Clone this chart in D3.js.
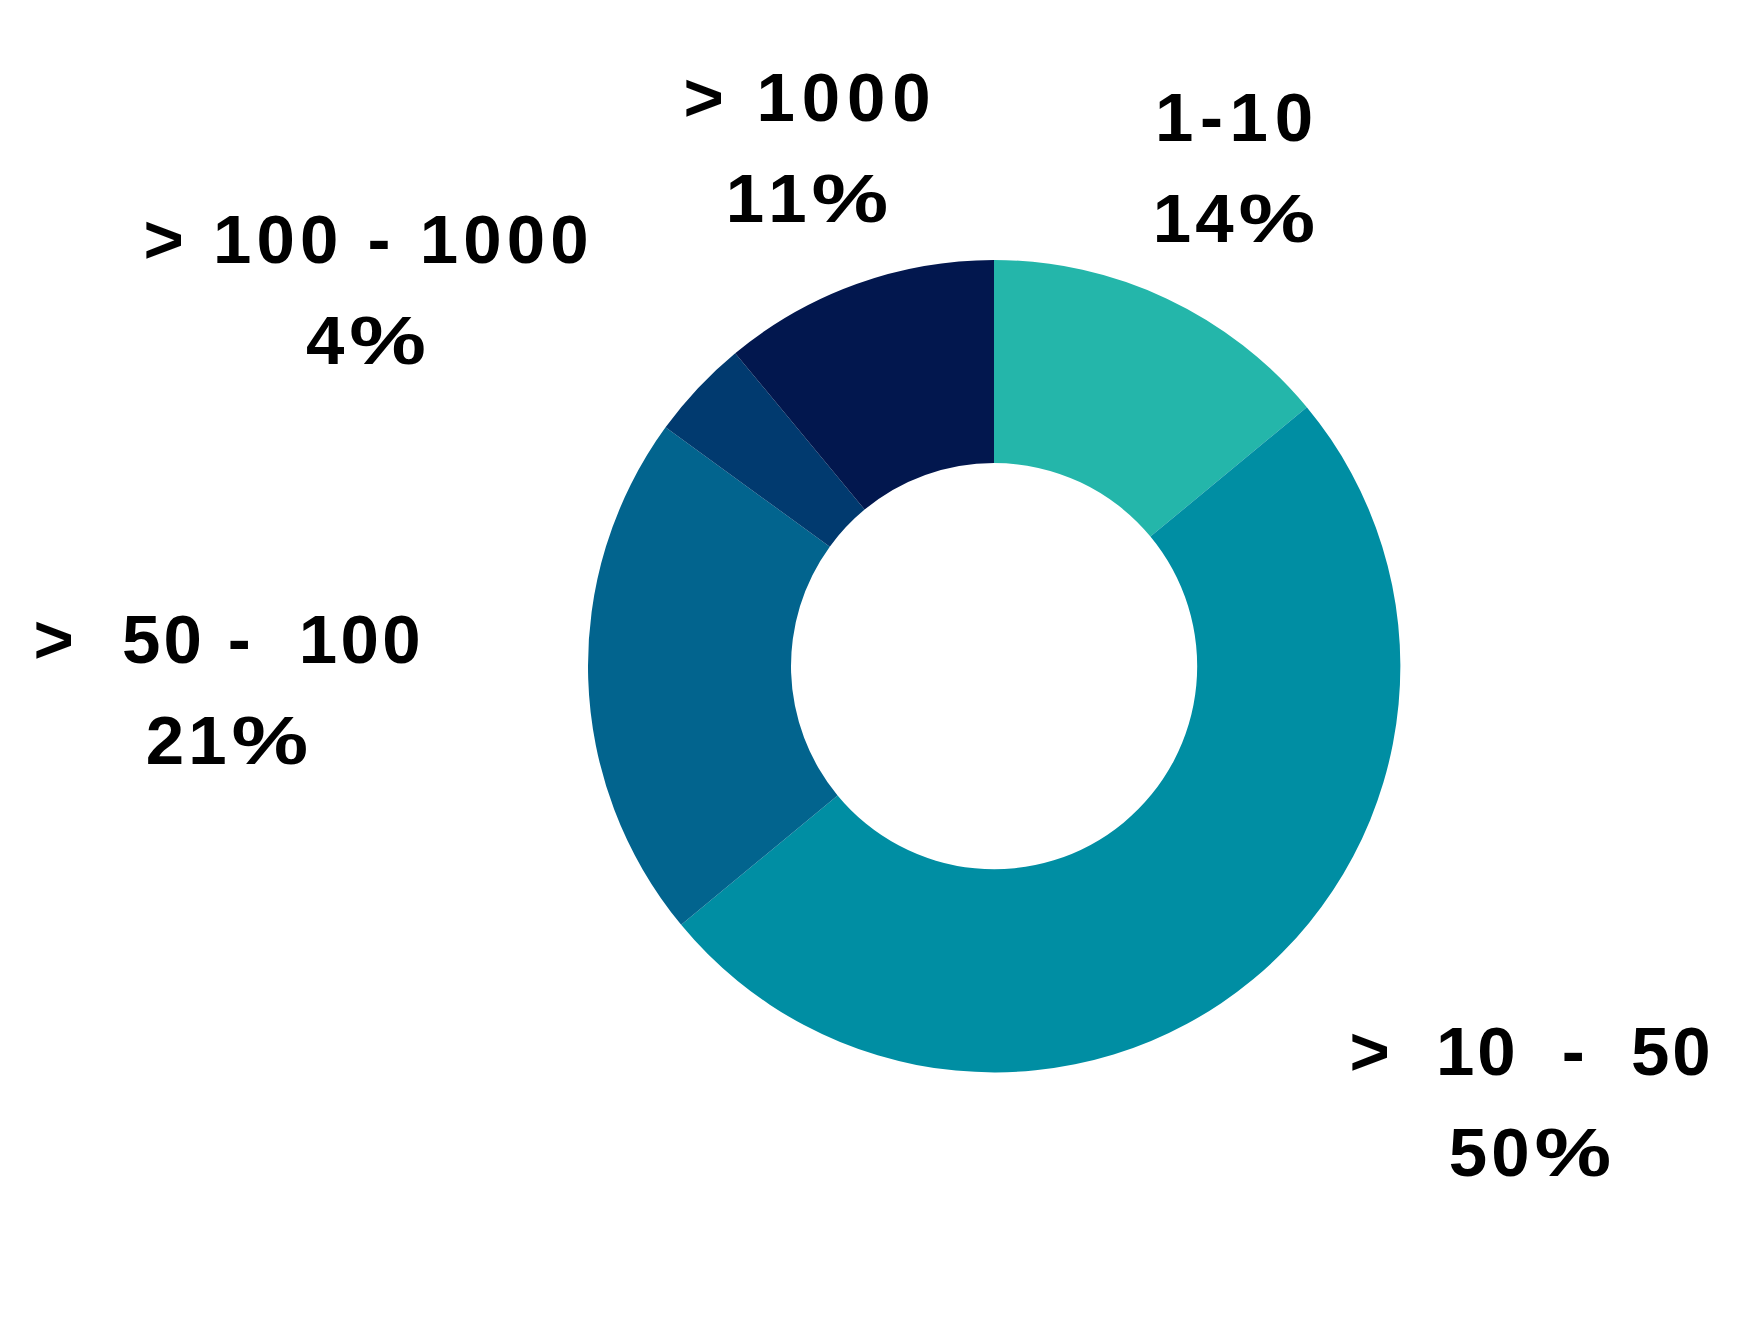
<!DOCTYPE html>
<html>
<head>
<meta charset="utf-8">
<script src="https://cdn.jsdelivr.net/npm/d3@7"></script>
<style>
  html, body { margin: 0; padding: 0; background: #fff; }
  text { font-kerning: none; }
</style>
</head>
<body>
<div id="DonutChart"></div>
<script>
// data
const categories = ["1-10", ">  10  -  50", ">  50 -  100", "> 100 - 1000", "> 1000"];
const shares = [14, 50, 21, 4, 11];
const sliceColors = ["#24b6aa", "#008ea3", "#02648e", "#013a6f", "#02174e"];

// label layout (centre x, first baseline y, ink width of first line)
const labelLayout = [
  { x: 1234, y: 141, w1: 152 },
  { x: 1530, y: 1075, w1: 355 },
  { x: 227, y: 663, w1: 381 },
  { x: 366, y: 263, w1: 439 },
  { x: 807, y: 121, w1: 241 }
];

const width = 1751, height = 1318;
const cx = 994, cy = 666;
const outerR = 406, innerR = 203;

const svg = d3.select("#DonutChart")
  .append("svg")
  .attr("width", width)
  .attr("height", height);

const data = categories.map((c, i) => ({ cat: c, value: shares[i], color: sliceColors[i] }));

const pie = d3.pie()
  .value(d => d.value)
  .sort(null);

const arc = d3.arc()
  .innerRadius(innerR)
  .outerRadius(outerR);

const g = svg.append("g")
  .attr("transform", "translate(" + cx + "," + cy + ")");

g.selectAll("path")
  .data(pie(data))
  .join("path")
  .attr("fill", d => d.data.color)
  .attr("d", arc);

// labels
const fontSize = 69, lineGap = 101;
const pctStretch = 1.25;  // the original's % sign is wider than Arial's
const fmt = d3.format(".0f");
const total = d3.sum(shares);

const labels = svg.append("g")
  .attr("font-family", "'Liberation Sans', Arial, Helvetica, sans-serif")
  .attr("font-weight", "bold")
  .attr("font-size", fontSize)
  .attr("fill", "#000");

data.forEach((d, i) => {
  const p = labelLayout[i];
  labels.append("text")
    .attr("x", p.x)
    .attr("y", p.y)
    .attr("text-anchor", "middle")
    .style("white-space", "pre")
    .attr("textLength", p.w1 + 6)
    .attr("lengthAdjust", "spacing")
    .text(d.cat);

  // percentage line: number + widened % sign, centred on p.x
  const yy = p.y + lineGap;
  const num = labels.append("text")
    .attr("y", yy)
    .attr("letter-spacing", 4)
    .text(fmt(d.value / total * 100));
  const pct = labels.append("text")
    .text("%");
  const nw = num.node().getComputedTextLength();
  const pw = pct.node().getComputedTextLength() * pctStretch;
  const gap = 1;
  const x0 = p.x - (nw + gap + pw) / 2;
  num.attr("x", x0);
  pct.attr("transform", "translate(" + (x0 + nw + gap) + "," + yy + ") scale(" + pctStretch + ",1)");
});
</script>
</body>
</html>
